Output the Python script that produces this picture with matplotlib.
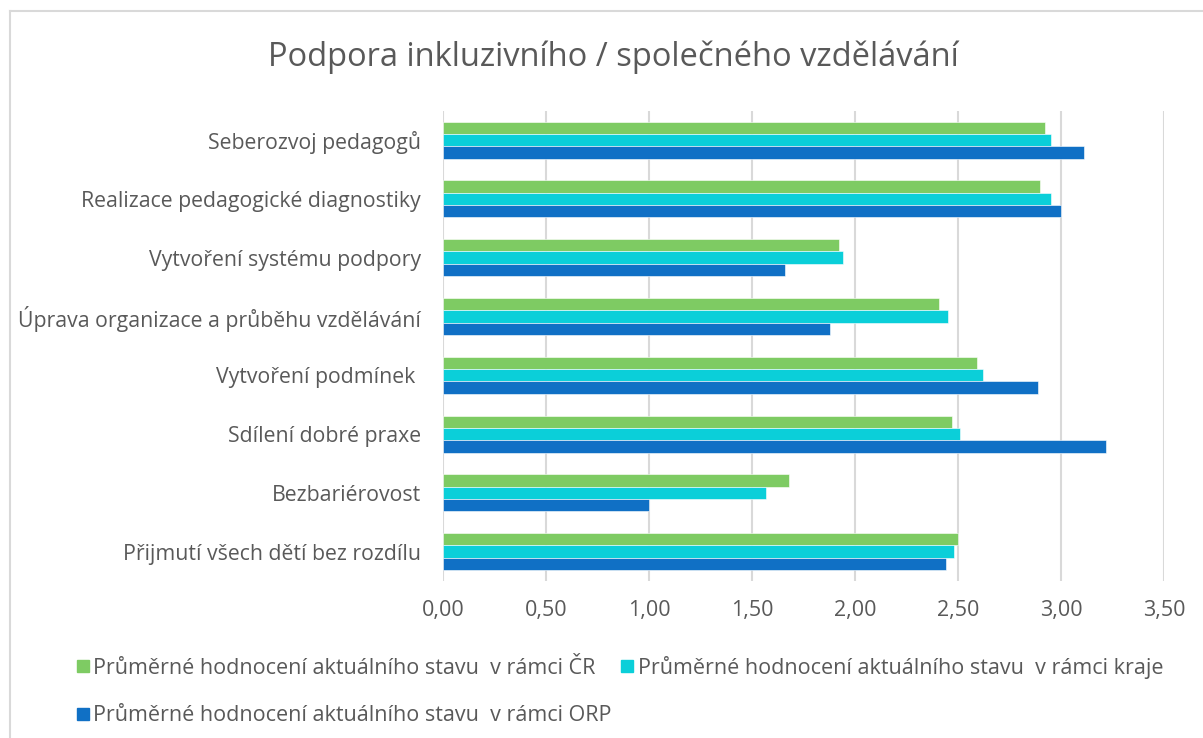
import matplotlib.pyplot as plt
import numpy as np
from matplotlib.lines import Line2D

# Data
categories = [
    "Seberozvoj pedagogů",
    "Realizace pedagogické diagnostiky",
    "Vytvoření systému podpory",
    "Úprava organizace a průběhu vzdělávání",
    "Vytvoření podmínek ",
    "Sdílení dobré praxe",
    "Bezbariérovost",
    "Přijmutí všech dětí bez rozdílu",
]
hodnoceni_cr = [2.92, 2.90, 1.92, 2.41, 2.59, 2.47, 1.68, 2.50]
hodnoceni_kraj = [2.95, 2.95, 1.94, 2.45, 2.62, 2.51, 1.57, 2.48]
hodnoceni_orp = [3.11, 3.00, 1.66, 1.88, 2.89, 3.22, 1.00, 2.44]

labels = [
    "Průměrné hodnocení aktuálního stavu  v rámci ČR",
    "Průměrné hodnocení aktuálního stavu  v rámci kraje",
    "Průměrné hodnocení aktuálního stavu  v rámci ORP",
]
colors = ["#7ECB63", "#0BCFD9", "#1070C5"]
ticks = np.arange(0, 3.51, 0.5)

plt.rcParams['font.family'] = ['Open Sans', 'DejaVu Sans']
text_col = "#595959"

fig = plt.figure(figsize=(12.03, 7.38), dpi=100)
ax = fig.add_axes([0.3683, 0.2127, 0.5993, 0.6374])

y = np.arange(len(categories))
h = 0.21
for k, vals in enumerate([hodnoceni_cr, hodnoceni_kraj, hodnoceni_orp]):
    ax.barh(y + (k - 1) * h, vals, height=h, color=colors[k],
            edgecolor="white", linewidth=0.4, label=labels[k], zorder=3)

ax.set_ylim(len(categories) - 0.5, -0.5)
ax.set_xlim(0, 3.5)
ax.set_xticks(ticks)
ax.set_xticklabels([f"{t:.2f}".replace(".", ",") for t in ticks],
                   fontsize=15.5, color=text_col)
ax.set_yticks(y)
ax.set_yticklabels(categories, fontsize=15.3, color=text_col)
ax.tick_params(axis='both', length=0)
ax.tick_params(axis='x', pad=14)
ax.tick_params(axis='y', pad=16)
ax.grid(axis='x', color="#D9D9D9", linewidth=1.5, zorder=0)
for s in ax.spines.values():
    s.set_visible(False)

fig.text(0.5096, 0.9228, "Podpora inkluzivního / společného vzdělávání",
         ha='center', va='center', fontsize=23.5, color=text_col)

# legend: order so that row 1 = ČR, kraje ; row 2 = ORP
handles = [Line2D([], [], marker='s', linestyle='none', markersize=9,
                  color=c) for c in colors]
order = [0, 2, 1]
fig.legend([handles[i] for i in order], [labels[i] for i in order],
           ncol=2, loc='upper left', bbox_to_anchor=(0.057, 0.123),
           frameon=False, fontsize=15.5, labelcolor=text_col,
           handlelength=0.5, handletextpad=0.25, columnspacing=0.45,
           labelspacing=1.22, borderaxespad=0)

# chart border
fig.add_artist(Line2D([10 / 1203, 10 / 1203], [0, 1 - 11 / 738],
                      transform=fig.transFigure, color="#D9D9D9", lw=1.5))
fig.add_artist(Line2D([10 / 1203, 1], [1 - 11 / 738, 1 - 11 / 738],
                      transform=fig.transFigure, color="#D9D9D9", lw=1.5))

fig.savefig("out.png", dpi=100)
